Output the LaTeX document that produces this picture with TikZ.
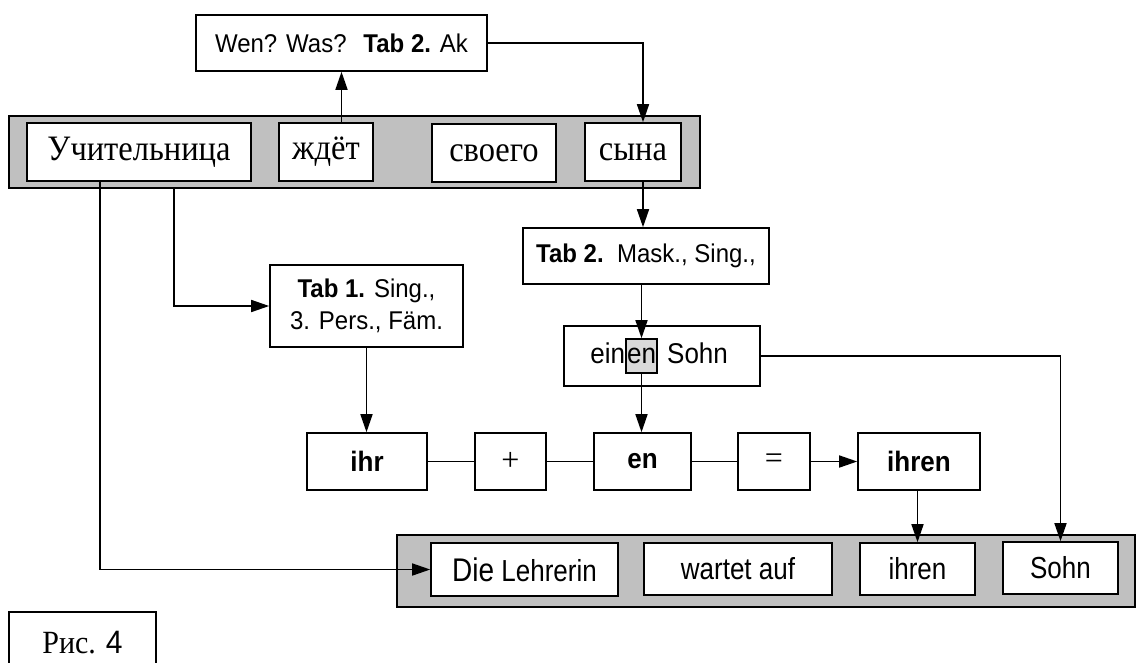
\documentclass[tikz,border=0pt]{standalone}
\usepackage{fontspec}
\usepackage{graphicx}
\setmainfont{Liberation Serif}
\newfontfamily\arial{Liberation Sans}
\usetikzlibrary{arrows.meta}
\definecolor{bandgray}{HTML}{C0C0C0}
\definecolor{hlgray}{HTML}{D9D9D9}
\newcommand\vst[2]{\scalebox{1}[#1]{#2}}
\tikzset{
  box/.style={draw, fill=white, line width=1.6pt, inner sep=0pt, align=center},
  band/.style={draw, fill=bandgray, line width=2.6pt, inner sep=0pt},
  arr/.style={line width=1.6pt, -{Triangle[length=18pt,width=12pt]}},
  con/.style={line width=1.6pt},
  ru/.style={font=\fontsize{32.5}{36}\selectfont},
  de/.style={font=\arial\fontsize{24}{30}\selectfont},
  deb/.style={font=\arial\bfseries\fontsize{26}{30}\selectfont},
  dl/.style={font=\arial\fontsize{26}{30}\selectfont},
  op/.style={font=\fontsize{32}{34}\selectfont},
}
\begin{document}
\begin{tikzpicture}[x=1pt,y=-1pt]
\useasboundingbox (0,0) rectangle (1141,662);
% top question box
\node[box, de, minimum width=291pt, minimum height=56pt] (q) at (341.5,43) {\vst{1.07}{Wen? Was?\hspace{0.7em}\textbf{Tab 2.} Ak}};
% top band
\node[band, minimum width=691pt, minimum height=72pt] (band1) at (354.5,152) {};
\node[box, ru, minimum width=224pt, minimum height=58pt] (u1) at (139,152) {\vst{1.1}{Учительница}};
\node[box, ru, minimum width=94pt, minimum height=58pt] (u2) at (326,152) {\vst{1.1}{ждёт}};
\node[box, ru, minimum width=124pt, minimum height=58pt] (u3) at (494,153) {\vst{1.1}{своего}};
\node[box, ru, minimum width=96pt, minimum height=58pt] (u4) at (633,152) {\vst{1.1}{сына}};
% middle boxes
\node[box, de, minimum width=246pt, minimum height=56pt] (t2) at (646,256) {\vst{1.07}{\textbf{Tab 2.}\ \ Mask., Sing.,}};
\node[box, de, minimum width=193pt, minimum height=82pt] (t1) at (366.5,306) {\vst{1.07}{\textbf{Tab 1.} Sing.,}\\[2pt]\vst{1.07}{3. Pers., Fäm.}};
\node[box, minimum width=196pt, minimum height=60pt] (es) at (662,356) {};
\node[draw, fill=hlgray, line width=1.6pt, dl, inner xsep=1pt, minimum height=34pt] (hl) at (641.5,356) {\vst{1.1}{en}};
\node[dl, anchor=base east, inner sep=0pt] (ein) at (hl.base west) {\vst{1.1}{ein}};
\node[dl, anchor=base west, inner sep=0pt] (sohn) at ([xshift=2pt]hl.base east) {\vst{1.1}{\ Sohn}};
% row
\node[box, deb, minimum width=120pt, minimum height=57pt] (ihr) at (367,461.5) {\vst{1.08}{ihr}};
\node[box, op, minimum width=71pt, minimum height=57pt] (plus) at (510.5,461.5) {+};
\node[box, deb, minimum width=97pt, minimum height=57pt] (en) at (642.5,461.5) {\vst{1.08}{en}};
\node[box, op, minimum width=72pt, minimum height=57pt] (eq) at (774,461.5) {=};
\node[box, deb, minimum width=122pt, minimum height=57pt] (ihren) at (919,461.5) {\vst{1.08}{ihren}};
% bottom band
\node[band, minimum width=738pt, minimum height=72pt] (band2) at (766,571) {};
\node[box, dl, minimum width=187pt, minimum height=53pt] (b1) at (524.5,569.5) {\vst{1.17}{{\fontsize{28}{30}\selectfont Die} Lehrerin}};
\node[box, dl, minimum width=188pt, minimum height=52pt] (b2) at (738,569) {\vst{1.17}{wartet auf}};
\node[box, dl, minimum width=115pt, minimum height=52pt] (b3) at (917.5,569) {\vst{1.17}{ihren}};
\node[box, dl, minimum width=115pt, minimum height=52pt] (b4) at (1060.5,568) {\vst{1.17}{Sohn}};
% figure label
\node[inner sep=0pt, font=\fontsize{30}{32}\selectfont] (fig) at (82.5,643) {\vst{1.08}{Рис. {\arial 4}}};
\draw[con] (9,670) -- (9,612) -- (156,612) -- (156,670);
% connectors
\draw[arr] (q.south |- u2.north) -- (q.south);
\draw[arr] (q.east) -| ([xshift=10pt]u4.north);
\draw[arr] ([xshift=10pt]u4.south) -- ([xshift=10pt]u4.south |- t2.north);
\draw[arr] (t2.south -| hl.north) -- (hl.north);
\draw[arr] (hl.south) -- (hl.south |- en.north);
\draw[arr] ([xshift=-39pt]u1.south) |- (b1.west);
\draw[arr] ([xshift=35pt]u1.south |- band1.south) |- (t1.west);
\draw[arr] (t1.south) -- (t1.south |- ihr.north);
\draw[con] (ihr.east) -- (plus.west);
\draw[con] (plus.east) -- (en.west);
\draw[con] (en.east) -- (eq.west);
\draw[arr] (eq.east) -- (ihren.west);
\draw[arr] (b3.north |- ihren.south) -- (b3.north);
\draw[arr] (es.east) -| (b4.north);
\end{tikzpicture}
\end{document}
